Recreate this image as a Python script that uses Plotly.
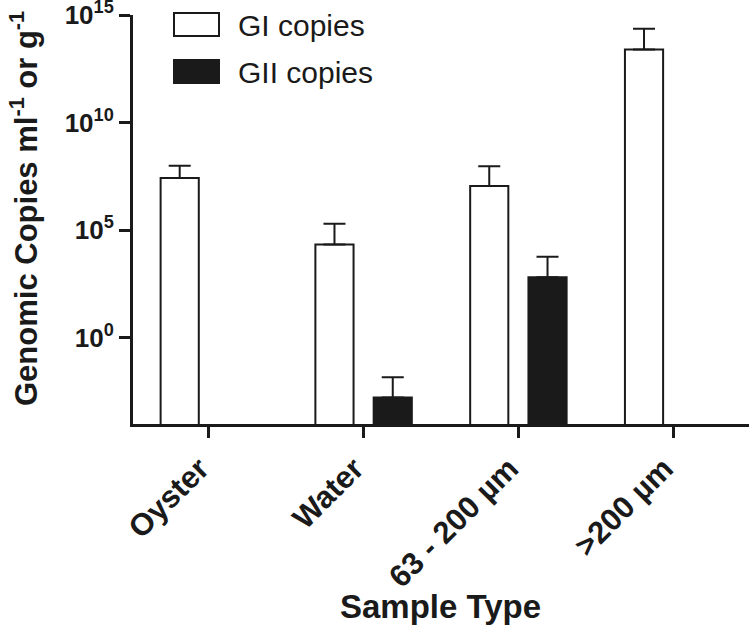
import plotly.graph_objects as go

categories = ["Oyster", "Water", "63 - 200 µm", ">200 µm"]
gi_values = [2.7e7, 2.2e4, 1.15e7, 2.5e13]
gi_err_up = [7.3e7, 1.8e5, 8.35e7, 2.05e14]
gii_values = [None, 1.7e-3, 660, None]
gii_err_up = [0, 1.33e-2, 5240, 0]
ytick_vals = [1, 1e5, 1e10, 1e15]
ytick_text = ["10<sup>0</sup>", "10<sup>5</sup>", "10<sup>10</sup>", "10<sup>15</sup>"]

INK = "#1a1a1a"
FONT = "Liberation Sans, Arial, sans-serif"

fig = go.Figure()
fig.add_trace(go.Bar(
    x=categories, y=gi_values, name="GI copies",
    marker=dict(color="white", line=dict(color=INK, width=2)),
    error_y=dict(type="data", array=gi_err_up, arrayminus=[0] * 4, symmetric=False,
                 color=INK, thickness=2, width=11),
    showlegend=False,
))
fig.add_trace(go.Bar(
    x=categories, y=gii_values, name="GII copies",
    marker=dict(color=INK, line=dict(color=INK, width=2)),
    error_y=dict(type="data", array=gii_err_up, arrayminus=[0] * 4, symmetric=False,
                 color=INK, thickness=2, width=11),
    showlegend=False,
))

# geometry helpers (page pixels -> paper coords); plot area 133..749 x, 15..424 y
PX0, PW, PY1, PH = 133.0, 616.0, 424.0, 409.0
def px(x):
    return (x - PX0) / PW
def py(y):
    return (PY1 - y) / PH

# custom legend (decoration)
legend_items = [("GI copies", "white", 13, 36, 26),
                ("GII copies", INK, 60, 83, 72)]
for label, fill, top, bot, ty in legend_items:
    fig.add_shape(type="rect", xref="paper", yref="paper",
                  x0=px(174), x1=px(219), y0=py(bot), y1=py(top),
                  fillcolor=fill, line=dict(color=INK, width=2))
    fig.add_annotation(text=label, xref="paper", yref="paper", x=px(236), y=py(ty),
                       xanchor="left", yanchor="middle", showarrow=False,
                       font=dict(family=FONT, size=30, color=INK))

fig.add_annotation(text="<b>Genomic Copies ml<sup>-1</sup> or g<sup>-1</sup></b>",
                   xref="paper", yref="paper", x=px(24), y=py(209),
                   xanchor="center", yanchor="middle", textangle=-90, showarrow=False,
                   font=dict(family=FONT, size=31, color=INK))
fig.add_annotation(text="<b>Sample Type</b>",
                   xref="paper", yref="paper", x=px(440), y=py(606),
                   xanchor="center", yanchor="middle", showarrow=False,
                   font=dict(family=FONT, size=33, color=INK))

fig.update_layout(
    width=750, height=628,
    margin=dict(l=133, r=1, t=15, b=204),
    paper_bgcolor="white", plot_bgcolor="white",
    barmode="group", bargap=0.247, bargroupgap=0.345,
    font=dict(family=FONT, color=INK),
)
fig.update_xaxes(
    range=[-0.49, 3.49], showgrid=False, zeroline=False, automargin=False,
    showline=True, linecolor=INK, linewidth=3,
    ticks="outside", ticklen=11, tickwidth=3, tickcolor=INK,
    tickangle=-45, ticklabelshift=-9,
    tickfont=dict(family=FONT, size=31, color=INK, weight="bold"),
)
fig.update_yaxes(
    type="log", range=[-4, 15.002], showgrid=False, zeroline=False, automargin=False,
    showline=True, linecolor=INK, linewidth=3,
    ticks="outside", ticklen=11, tickwidth=3, tickcolor=INK,
    tickvals=ytick_vals, ticktext=ytick_text, ticklabeloverflow="allow",
    tickfont=dict(family=FONT, size=26, color=INK, weight="bold"),
)

# remove the default 8px page margin so the figure fills the 750x628 window
fig.write_html("out.html", config={"displayModeBar": False},
               post_script="document.body.style.margin='0px';")
